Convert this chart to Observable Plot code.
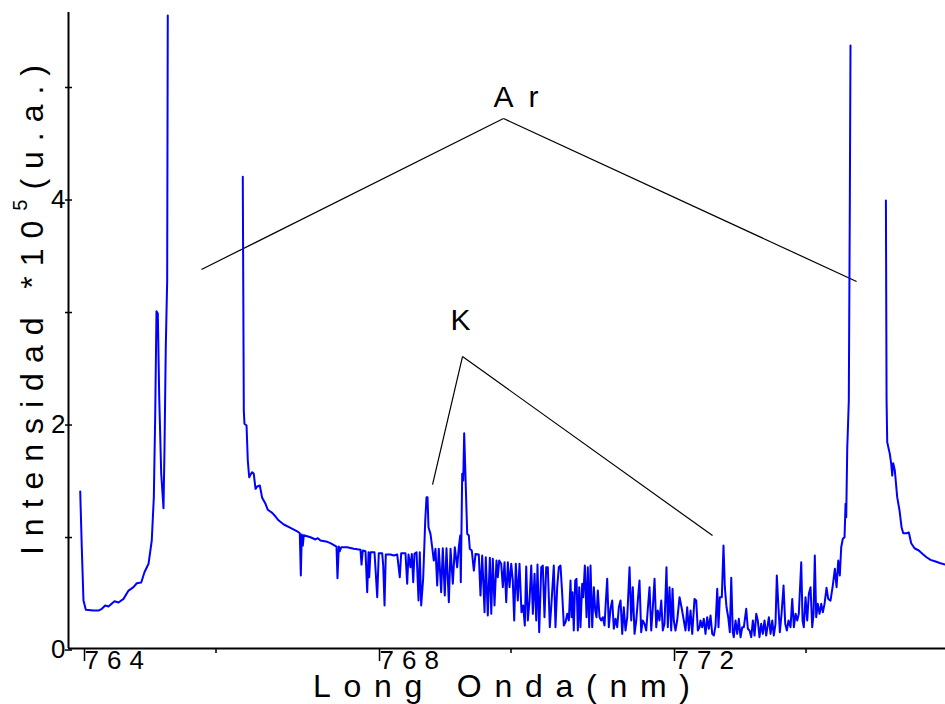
<!DOCTYPE html>
<html>
<head>
<meta charset="utf-8">
<script src="https://cdn.jsdelivr.net/npm/d3@7"></script>
<script src="https://cdn.jsdelivr.net/npm/@observablehq/plot@0.6"></script>
<style>
  body { margin: 0; background: #fff; }
</style>
</head>
<body>
<div id="chart"></div>
<script>
// Wavelength (nm) and intensity (x10^5 a.u.); null = break in the trace
const wavelength = [
764.159,764.180,764.203,764.235,764.339,764.407,764.452,764.498,764.542,764.624,764.678,764.746,764.814,764.881,764.926,764.986,
765.030,765.085,765.129,765.157,765.176,765.193,765.211,765.230,765.257,765.288,765.302,765.319,765.338,765.346,
765.800,
766.363,766.377,766.386,766.414,766.431,766.450,766.468,766.491,766.512,766.536,766.559,766.594,766.626,766.671,766.702,766.762,
766.807,766.851,766.919,767.010,767.101,767.136,767.150,767.163,767.177,767.190,767.281,767.349,767.380,767.417,767.508,767.552,
767.634,767.647,767.665,767.679,767.698,767.779,767.868,767.959,767.973,767.990,768.027,768.050,768.068,768.077,768.095,768.149,
768.186,768.207,768.253,768.267,768.285,768.302,768.366,768.411,768.457,768.492,768.511,768.569,768.592,768.610,768.637,768.655,
768.674,768.691,768.719,768.746,768.763,768.782,768.809,768.837,768.854,768.868,768.881,768.908,768.931,768.953,768.976,768.999,
769.021,769.053,769.075,769.102,769.125,769.157,769.180,769.211,769.238,769.270,769.292,769.311,769.319,769.329,769.338,769.352,
769.365,769.383,769.406,769.428,769.441,769.468,769.496,769.519,769.563,769.586,769.609,769.641,769.658,769.685,769.713,769.732,
769.753,769.776,769.803,769.821,769.840,769.867,769.889,769.912,769.935,769.957,769.980,770.003,770.024,770.043,770.065,770.092,
770.115,770.142,770.165,770.187,770.206,770.228,770.251,770.274,770.296,770.319,770.342,770.359,770.382,770.410,770.431,770.454,
770.477,770.499,770.526,770.545,770.580,770.603,770.626,770.648,770.671,770.694,770.716,770.739,770.762,770.784,770.807,770.820,
770.834,770.851,770.870,770.888,770.906,770.925,770.942,770.965,770.979,771.001,771.024,771.041,771.060,771.078,771.101,771.123,
771.142,771.159,771.177,771.200,771.223,771.245,771.268,771.285,771.304,771.326,771.349,771.372,771.394,771.417,771.440,771.462,
771.485,771.508,771.529,771.552,771.576,771.607,771.630,771.651,771.675,771.698,771.719,771.742,771.765,771.787,771.810,771.833,
771.855,771.878,771.901,771.923,771.946,771.969,771.990,772.013,772.037,772.058,772.081,772.108,772.126,772.149,772.172,772.190,
772.207,772.230,772.253,772.285,772.312,772.343,772.366,772.389,772.411,772.434,772.457,772.488,772.511,772.533,772.556,772.569,
772.592,772.614,772.637,772.660,772.682,772.705,772.728,772.750,772.773,772.796,772.813,772.831,772.858,772.881,772.899,772.922,
772.945,772.967,772.986,773.007,773.021,773.044,773.067,773.089,773.112,773.135,773.157,773.189,773.211,773.234,773.257,773.279,
773.302,773.325,773.346,773.369,773.392,773.414,773.437,773.460,773.496,773.519,773.542,773.563,773.586,773.604,773.627,773.645,
773.668,773.695,773.718,773.740,773.763,773.790,773.813,773.835,773.858,773.881,773.902,773.935,773.953,773.970,773.993,774.016,
774.038,774.061,774.084,774.102,774.119,774.138,774.160,774.183,774.206,774.228,774.251,774.278,774.301,774.332,774.363,774.391,
774.414,774.437,774.458,774.477,774.499,774.522,774.536,774.545,774.559,774.567,774.580,774.594,774.603,
774.850,
775.083,775.092,775.101,775.136,775.155,775.169,775.182,775.204,775.236,775.268,775.295,775.318,775.363,775.394,775.426,775.471,
775.529,775.589,775.634,775.688,775.746,775.823,775.891
];
const intensity = [
1.302,0.807,0.333,0.251,0.244,0.244,0.260,0.289,0.280,0.327,0.316,0.348,0.422,0.452,0.487,0.493,
0.585,0.660,0.867,1.252,1.996,2.905,2.884,2.140,1.462,1.154,1.696,2.585,3.178,5.533,
null,
4.100,2.022,1.904,1.889,1.578,1.429,1.453,1.474,1.460,1.326,1.347,1.356,1.246,1.193,1.140,1.113,
1.080,1.044,1.009,0.980,0.949,0.932,0.556,0.920,0.822,0.914,0.896,0.876,0.887,0.867,0.855,0.843,
0.813,0.532,0.813,0.772,0.807,0.807,0.793,0.784,0.653,0.778,0.772,0.407,0.763,0.540,0.763,0.763,
0.363,0.754,0.754,0.644,0.289,0.742,0.742,0.733,0.742,0.540,0.754,0.754,0.482,0.742,0.629,0.748,
0.496,0.748,0.763,0.333,0.763,0.289,0.529,1.044,1.252,1.252,0.985,0.926,0.807,0.689,0.793,0.467,
0.793,0.407,0.798,0.378,0.798,0.318,0.793,0.482,0.807,0.629,0.807,0.911,0.496,0.985,1.460,1.400,
1.820,1.429,0.926,0.911,0.793,0.778,0.600,0.748,0.742,0.378,0.733,0.229,0.718,0.200,0.713,0.215,
0.704,0.289,0.689,0.540,0.689,0.660,0.452,0.674,0.318,0.674,0.452,0.660,0.511,0.156,0.660,0.333,
0.660,0.229,0.289,0.111,0.636,0.156,0.333,0.644,0.215,0.571,0.156,0.653,0.052,0.629,0.644,0.185,
0.629,0.629,0.096,0.274,0.644,0.096,0.452,0.629,0.644,0.393,0.111,0.140,0.215,0.156,0.511,0.185,
0.407,0.067,0.511,0.526,0.067,0.452,0.096,0.482,0.363,0.644,0.185,0.629,0.096,0.644,0.096,0.452,
0.244,0.185,0.422,0.185,0.156,0.185,0.111,0.318,0.526,0.096,0.260,0.333,0.082,0.171,0.096,0.274,
0.333,0.037,0.274,0.067,0.185,0.629,0.156,0.452,0.037,0.156,0.333,0.511,0.052,0.156,0.126,0.067,
0.260,0.452,0.067,0.274,0.526,0.096,0.244,0.156,0.333,0.067,0.126,0.629,0.096,0.452,0.067,0.437,
0.156,0.067,0.156,0.363,0.274,0.156,0.067,0.274,0.067,0.244,0.037,0.348,0.333,0.067,0.096,0.156,
0.096,0.171,0.037,0.185,0.082,0.200,0.037,0.022,0.111,0.437,0.096,0.363,0.363,0.822,0.452,0.274,
0.185,0.052,0.535,0.052,0.007,0.156,0.037,0.171,0.007,0.096,0.096,0.260,0.082,0.067,0.007,0.156,
0.022,0.215,0.156,0.007,0.126,0.037,0.156,0.022,0.185,0.037,0.156,0.022,0.126,0.556,0.260,0.052,
0.215,0.467,0.126,0.067,0.156,0.096,0.348,0.096,0.215,0.156,0.215,0.674,0.156,0.096,0.363,0.156,
0.393,0.452,0.096,0.215,0.733,0.185,0.304,0.215,0.304,0.229,0.304,0.446,0.348,0.333,0.467,0.615,
0.452,0.689,0.556,0.807,0.882,0.896,1.193,1.074,1.696,1.845,2.111,3.889,5.267,
null,
3.889,2.111,1.741,1.637,1.548,1.444,1.554,1.489,1.252,1.133,0.985,0.932,0.932,0.938,0.843,0.798,
0.778,0.742,0.718,0.695,0.683,0.665,0.653
];

// Axis ticks
const majorTicks = [764, 768, 772];
const minorTicks = [766, 770, 774];
const yTicks = [0, 1, 2, 3, 4, 5];
const yLabeled = [0, 2, 4];

// Annotations
const labelText = ["Ar", "K"];
const labelX = [769.763, 769.180];
const labelY = [4.804, 2.822];
const lineX1 = [769.898, 769.898, 769.342, 769.342];
const lineY1 = [4.618, 4.618, 2.502, 2.502];
const lineX2 = [765.803, 774.685, 768.936, 772.732];
const lineY2 = [3.276, 3.169, 1.364, 0.911];

const spectrum = wavelength.map((w, i) => ({nm: w, I: intensity[i]}));
const labels = labelText.map((t, i) => ({t, x: labelX[i], y: labelY[i]}));
const links = lineX1.map((x1, i) => ({x1, y1: lineY1[i], x2: lineX2[i], y2: lineY2[i]}));

const plot = Plot.plot({
  width: 945,
  height: 704,
  marginLeft: 68,
  marginRight: 0,
  marginTop: 12,
  marginBottom: 56,
  x: {domain: [764, 775.891], label: null},
  y: {domain: [-0.093, 5.56], label: null},
  style: {fontFamily: "'Liberation Sans', Arial, sans-serif", background: "white", color: "black"},
  marks: [
    Plot.axisY({ticks: yTicks, tickSize: 7, tickPadding: 0, dx: 4, dy: 12, fontSize: 26,
      tickFormat: d => yLabeled.includes(d) ? String(d) : ""}),
    Plot.axisX({ticks: majorTicks, tickSize: 13, tickPadding: -11, dx: 16, textAnchor: "start",
      fontSize: 26, tickFormat: d => String(d)}),
    Plot.axisX({ticks: minorTicks, tickSize: 5, tickFormat: () => ""}),
    Plot.ruleX([764], {stroke: "black", strokeWidth: 2}),
    Plot.ruleY([-0.093], {stroke: "black", strokeWidth: 2}),
    Plot.link(links, {x1: "x1", y1: "y1", x2: "x2", y2: "y2", stroke: "black", strokeWidth: 1.2}),
    Plot.line(spectrum, {x: "nm", y: "I", stroke: "#0000ff", strokeWidth: 2}),
    Plot.text(labels, {x: "x", y: "y", text: "t", fontSize: 30, fill: "black", textAnchor: "start", lineAnchor: "middle"})
  ]
});

document.getElementById("chart").appendChild(plot);
const svg = d3.select(plot);
svg.selectAll('g[aria-label="x-axis tick label"] text').style("letter-spacing", "8px");
svg.selectAll('g[aria-label="text"] text').style("letter-spacing", "15px");
svg.selectAll('g[aria-label="x-axis tick"], g[aria-label="y-axis tick"]').attr("stroke-width", 1.5);

// Axis titles
svg.append("text")
  .attr("x", 313).attr("y", 697)
  .attr("text-anchor", "start")
  .attr("font-family", "'Liberation Sans', Arial, sans-serif")
  .attr("font-size", 32)
  .attr("fill", "black")
  .attr("textLength", 377)
  .attr("lengthAdjust", "spacing")
  .text("Long Onda(nm)");

const yt = svg.append("text")
  .attr("transform", "translate(43,555) rotate(-90)")
  .attr("text-anchor", "start")
  .attr("font-family", "'Liberation Sans', Arial, sans-serif")
  .attr("font-size", 32)
  .attr("fill", "black")
  .attr("textLength", 490)
  .attr("lengthAdjust", "spacing");
yt.append("tspan").text("Intensidad *10");
yt.append("tspan").attr("dy", -16).attr("font-size", 20).text("5");
yt.append("tspan").attr("dy", 16).text("(u.a.)");
</script>
</body>
</html>
